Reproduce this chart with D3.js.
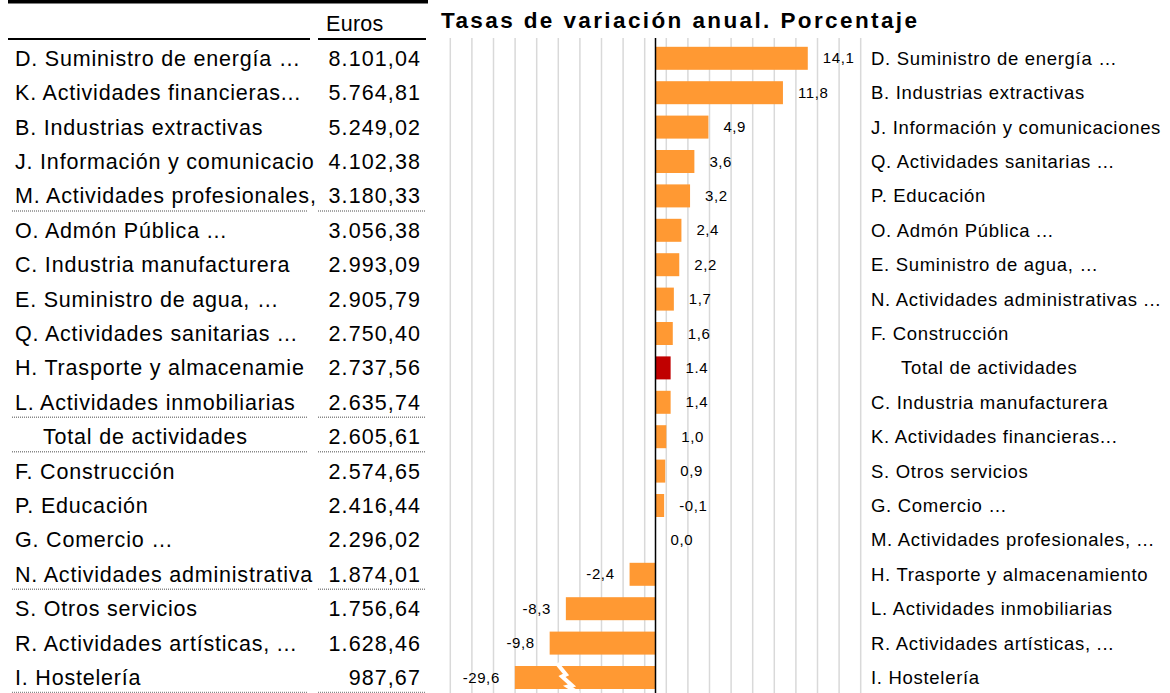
<!DOCTYPE html>
<html>
<head>
<meta charset="utf-8">
<script src="https://cdn.jsdelivr.net/npm/d3@7"></script>
<style>
  body { margin: 0; background: #fff; }
  svg { display: block; font-family: "Liberation Sans", Arial, sans-serif; }
</style>
</head>
<body>
<div id="chart"></div>
<script>
// tabla de la izquierda (euros)
const tablaNombres = ["D. Suministro de energía …", "K. Actividades financieras...", "B. Industrias extractivas",
  "J. Información y comunicaciones", "M. Actividades profesionales, ...", "O. Admón Pública ...",
  "C. Industria manufacturera", "E. Suministro de agua, …", "Q. Actividades sanitarias ...",
  "H. Trasporte y almacenamiento", "L. Actividades inmobiliarias", "Total de actividades",
  "F. Construcción", "P. Educación", "G. Comercio …", "N. Actividades administrativas ...",
  "S. Otros servicios", "R. Actividades artísticas, ...", "I. Hostelería"];
const tablaEuros = ["8.101,04", "5.764,81", "5.249,02", "4.102,38", "3.180,33", "3.056,38", "2.993,09",
  "2.905,79", "2.750,40", "2.737,56", "2.635,74", "2.605,61", "2.574,65", "2.416,44", "2.296,02",
  "1.874,01", "1.756,64", "1.628,46", "987,67"];

// grafico de la derecha (tasas de variacion)
const tasaNombres = ["D. Suministro de energía …", "B. Industrias extractivas", "J. Información y comunicaciones",
  "Q. Actividades sanitarias ...", "P. Educación", "O. Admón Pública ...", "E. Suministro de agua, …",
  "N. Actividades administrativas ...", "F. Construcción", "Total de actividades",
  "C. Industria manufacturera", "K. Actividades financieras...", "S. Otros servicios", "G. Comercio …",
  "M. Actividades profesionales, ...", "H. Trasporte y almacenamiento", "L. Actividades inmobiliarias",
  "R. Actividades artísticas, ...", "I. Hostelería"];
const tasaValores = [14.1, 11.8, 4.9, 3.6, 3.2, 2.4, 2.2, 1.7, 1.6, 1.4, 1.4, 1.0, 0.9, 0.8, 0.0, -2.4, -8.3, -9.8, -29.6];
const tasaEtiquetas = ["14,1", "11,8", "4,9", "3,6", "3,2", "2,4", "2,2", "1,7", "1,6", "1.4", "1,4", "1,0",
  "0,9", "-0,1", "0,0", "-2,4", "-8,3", "-9,8", "-29,6"];
const gridTicks = [-19, -17, -15, -13, -11, -9, -7, -5, -3, -1, 1, 3, 5, 7, 9, 11, 13, 15, 17, 19];

const W = 1170, H = 693;
const svg = d3.select('#chart').append('svg').attr('width', W).attr('height', H);

// filas
const y = d3.scaleBand().domain(d3.range(19)).range([41.1, 41.1 + 19 * 34.4]);
const yc = i => y(i) + y.bandwidth() / 2;

// ---------- tabla ----------
svg.append('rect').attr('x', 8).attr('y', 0).attr('width', 420).attr('height', 3.5).attr('fill', '#000');
svg.append('text').attr('x', 326).attr('y', 31).attr('font-size', 21.5).attr('letter-spacing', 0.3).text('Euros');
svg.append('line').attr('x1', 8).attr('x2', 310).attr('y1', 39).attr('y2', 39).attr('stroke', '#000').attr('stroke-width', 2);
svg.append('line').attr('x1', 318).attr('x2', 426).attr('y1', 39).attr('y2', 39).attr('stroke', '#000').attr('stroke-width', 2);

const tabla = svg.append('g');
tabla.append('g')
  .selectAll('text').data(tablaNombres).join('text')
  .attr('x', (d, i) => d.startsWith('Total') ? 43 : 15)
  .attr('y', (d, i) => yc(i) + 7.5)
  .attr('font-size', 21.5).attr('letter-spacing', 0.8)
  .text(d => d)
  .each(function (d) {
    // la celda corta el texto que no cabe
    const el = d3.select(this);
    const x0 = +el.attr('x');
    let s = d;
    while (s.length > 1 && x0 + this.getComputedTextLength() > 317) {
      s = s.slice(0, -1);
      el.text(s);
    }
  });
tabla.append('g').selectAll('text').data(tablaEuros).join('text')
  .attr('x', 421).attr('y', (d, i) => yc(i) + 7.5)
  .attr('text-anchor', 'end').attr('font-size', 21.5).attr('letter-spacing', 1.1)
  .text(d => d);

// lineas punteadas bajo algunas filas
const subrayadas = [4, 10, 11, 15, 18];
subrayadas.forEach(i => {
  [[12, 308], [318, 426]].forEach(([a, b]) => {
    svg.append('line').attr('x1', a).attr('x2', b)
      .attr('y1', yc(i) + 15).attr('y2', yc(i) + 15)
      .attr('stroke', '#888').attr('stroke-width', 1.5).attr('stroke-dasharray', '1,1');
  });
});

// ---------- grafico ----------
svg.append('text').attr('x', 441).attr('y', 27.5).attr('font-size', 22.5).attr('font-weight', 'bold')
  .attr('textLength', 476).attr('lengthAdjust', 'spacing')
  .text('Tasas de variación anual. Porcentaje');

const x = d3.scaleLinear().domain([-20, 20]).range([655.5 - 216, 655.5 + 216]);
// eje roto para I. Hostelería
const xb = d3.scaleLinear().domain([-30, -12, 20]).range([x(-13) - 0.5, x(-12), x(20)]);

svg.append('g').selectAll('line').data(gridTicks).join('line')
  .attr('x1', d => x(d)).attr('x2', d => x(d)).attr('y1', 38).attr('y2', H)
  .attr('stroke', '#d9d9d9').attr('stroke-width', 1.5);

svg.append('g').selectAll('rect').data(tasaValores).join('rect')
  .attr('x', d => Math.min(xb(d), xb(0)))
  .attr('y', (d, i) => yc(i) - 11.5)
  .attr('width', d => Math.abs(xb(d) - xb(0)))
  .attr('height', 23)
  .attr('fill', (d, i) => tasaNombres[i].startsWith('Total') ? '#c00000' : '#ff9933');

// zigzag del corte
const iHost = tasaNombres.length - 1;
svg.append('path')
  .attr('d', d3.line()([[557, yc(iHost) - 14], [566, yc(iHost) - 3], [562, yc(iHost) - 1], [572, yc(iHost) + 8], [568, yc(iHost) + 9], [579, yc(iHost) + 16]]))
  .attr('fill', 'none').attr('stroke', '#fff').attr('stroke-width', 4);

svg.append('line').attr('x1', x(0)).attr('x2', x(0)).attr('y1', 38).attr('y2', H)
  .attr('stroke', '#000').attr('stroke-width', 1.5);

svg.append('g').selectAll('text').data(tasaEtiquetas).join('text')
  .attr('x', (d, i) => tasaValores[i] >= 0 ? xb(tasaValores[i]) + 15 : xb(tasaValores[i]) - 15)
  .attr('y', (d, i) => yc(i) + 5)
  .attr('text-anchor', (d, i) => tasaValores[i] >= 0 ? 'start' : 'end')
  .attr('font-size', 15).attr('letter-spacing', 0.6)
  .text(d => d);

svg.append('g').selectAll('text').data(tasaNombres).join('text')
  .attr('x', d => d.startsWith('Total') ? 901 : 871)
  .attr('y', (d, i) => yc(i) + 6.5)
  .attr('font-size', 18.5).attr('letter-spacing', 0.7)
  .text(d => d);
</script>
</body>
</html>
